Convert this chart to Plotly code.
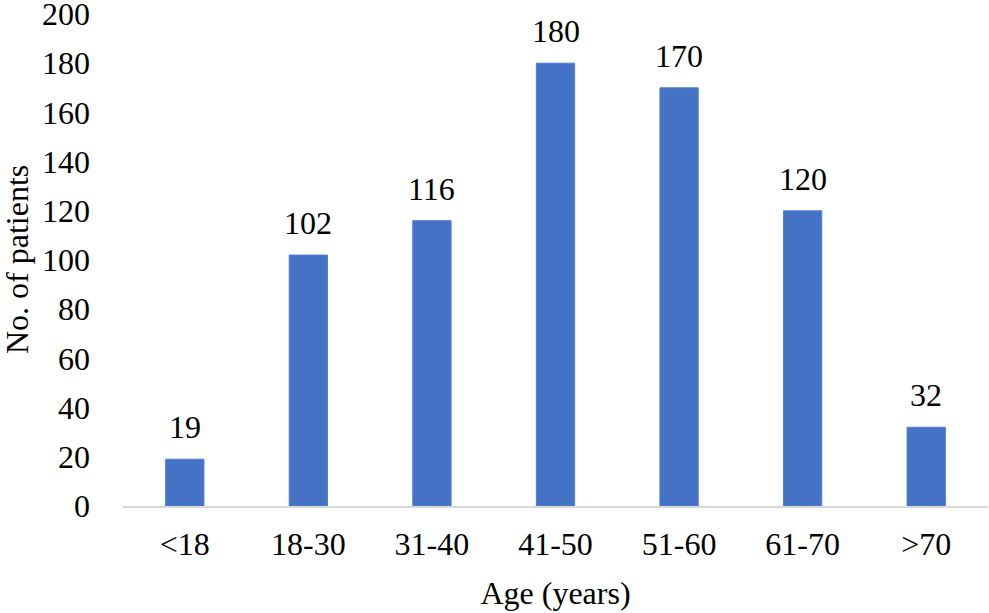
import plotly.graph_objects as go

categories = ["<18", "18-30", "31-40", "41-50", "51-60", "61-70", ">70"]
patients = [19, 102, 116, 180, 170, 120, 32]
y_ticks = [0, 20, 40, 60, 80, 100, 120, 140, 160, 180, 200]
x_title = "Age (years)"
y_title = "No. of patients"

FONT = "Liberation Serif, Times New Roman, serif"
FS = 32
L, R, T, B = 123, 1, 14, 107
W, H = 989, 613

fig = go.Figure()
fig.add_trace(go.Bar(
    x=categories, y=patients,
    marker=dict(color="#4472C4", line=dict(color="#4f7fd6", width=1)),
    cliponaxis=False,
))

for c, v in zip(categories, patients):
    fig.add_annotation(
        x=c, y=v, text=str(v), showarrow=False,
        xanchor="center", yanchor="bottom", yshift=12,
        font=dict(family=FONT, size=FS, color="black"),
    )

# y-axis title placed as rotated text to the left of the tick labels
fig.add_annotation(
    xref="paper", yref="paper", x=0, y=0.5, xshift=17 - L,
    xanchor="center", yanchor="middle", textangle=-90,
    text=y_title, showarrow=False,
    font=dict(family=FONT, size=FS, color="black"),
)

fig.update_layout(
    width=W, height=H,
    margin=dict(l=L, r=R, t=T, b=B, autoexpand=False),
    paper_bgcolor="white", plot_bgcolor="white",
    bargap=0.69, showlegend=False,
    font=dict(family=FONT, size=FS, color="black"),
)
fig.update_xaxes(
    automargin=False,
    showline=True, linecolor="#d9d9d9", linewidth=2,
    showgrid=False, ticks="", ticklabelstandoff=9,
    title=dict(text=x_title, standoff=20, font=dict(family=FONT, size=FS)),
    tickfont=dict(family=FONT, size=FS),
)
fig.update_yaxes(
    automargin=False,
    range=[0, 200], tickvals=y_ticks, showgrid=False, zeroline=False,
    showline=False, ticks="", ticklabelstandoff=32, ticklabeloverflow="allow",
    tickfont=dict(family=FONT, size=FS),
)

# remove the default 8px page margin so the figure fills the window exactly
fig.write_html(
    "out.html",
    config={"displayModeBar": False},
    post_script="document.body.style.margin='0';document.body.style.overflow='hidden';",
)
